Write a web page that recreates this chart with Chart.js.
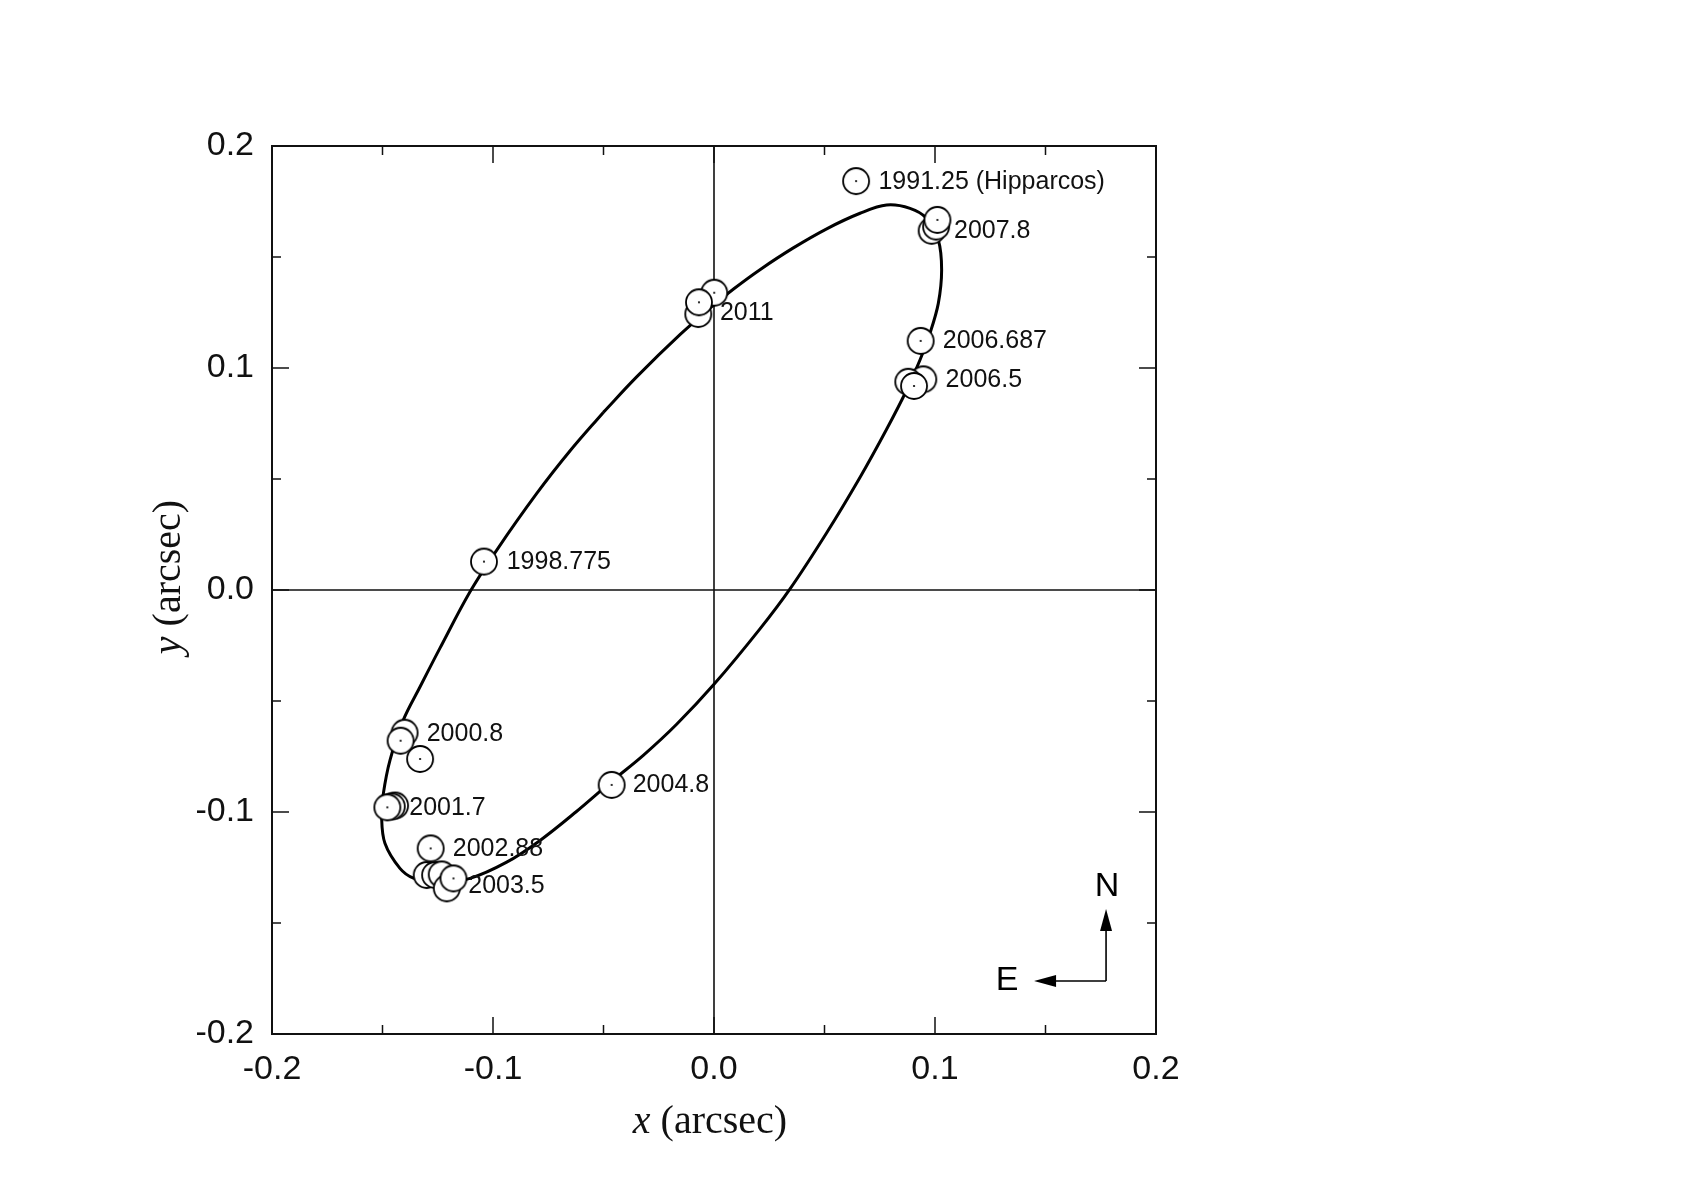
<!DOCTYPE html>
<html>
<head>
<meta charset="utf-8">
<script src="https://cdn.jsdelivr.net/npm/chart.js@4.4.0/dist/chart.umd.min.js"></script>
<style>
html, body { margin: 0; padding: 0; background: #fff; }
</style>
</head>
<body>
<canvas id="orbit-chart" width="1707" height="1190"></canvas>
<script>
// observed relative positions (arcsec), later points sit on top
var obsX = [0.0643, -0.1041, -0.1400, -0.1418, -0.1330, -0.1443, -0.1458, -0.1478, -0.1282,
    -0.1300, -0.1262, -0.1232, -0.1209, -0.1179, -0.0463, 0.0947, 0.0879, 0.0905, 0.0935,
    0.0985, 0.1005, 0.1011, -0.0071, 0.0001, -0.0068];
var obsY = [0.1842, 0.0128, -0.0643, -0.0679, -0.0761, -0.0971, -0.0975, -0.0979, -0.1164,
    -0.1284, -0.1284, -0.1281, -0.1344, -0.1299, -0.0878, 0.0949, 0.0938, 0.0919, 0.1122,
    0.1618, 0.1637, 0.1667, 0.1243, 0.1339, 0.1296];

// fitted orbit
var orbitX = [-0.0501, -0.0350, -0.0154, 0.0000, 0.0087, 0.0208, 0.0359, 0.0510,
    0.0661, 0.0781, 0.0887, 0.0962, 0.1015, 0.1030, 0.1015, 0.0977, 0.0932, 0.0872,
    0.0781, 0.0661, 0.0510, 0.0344, 0.0208, 0.0000, -0.0169, -0.0320, -0.0463, -0.0625,
    -0.0787, -0.0938, -0.1104, -0.1250, -0.1360, -0.1421, -0.1489, -0.1504, -0.1496, -0.1466,
    -0.1406, -0.1330, -0.1240, -0.1104, -0.0983, -0.0802, -0.0652, -0.0501];
var orbitY = [0.0800, 0.0960, 0.1150, 0.1285, 0.1355, 0.1443, 0.1541, 0.1627,
    0.1697, 0.1734, 0.1719, 0.1674, 0.1577, 0.1441, 0.1291, 0.1156, 0.1036, 0.0901,
    0.0724, 0.0508, 0.0258, 0.0005, -0.0175, -0.0425, -0.0605, -0.0745, -0.0862, -0.1000,
    -0.1128, -0.1226, -0.1299, -0.1320, -0.1298, -0.1254, -0.1141, -0.1021, -0.0916, -0.0766,
    -0.0586, -0.0436, -0.0262, -0.0008, 0.0180, 0.0435, 0.0626, 0.0800];

// epoch labels (left edge of text, in data units)
var labelText = ['1991.25 (Hipparcos)', '2007.8', '2006.687', '2006.5', '2011', '1998.775',
    '2000.8', '2001.7', '2002.88', '2003.5', '2004.8'];
var labelX = [0.0744, 0.1086, 0.1035, 0.1048, 0.0027, -0.0938, -0.1300, -0.1379, -0.1182, -0.1112, -0.0368];
var labelY = [0.1842, 0.1622, 0.1126, 0.0949, 0.1251, 0.0128, -0.0643, -0.0976, -0.1164, -0.1329, -0.0874];

var majorTicks = [-0.2, -0.1, 0, 0.1, 0.2];
var minorTicks = [-0.15, -0.05, 0.05, 0.15];

var sansFont = '"Liberation Sans", Arial, sans-serif';
var serifFont = '"Liberation Serif", "Times New Roman", serif';

// open circle with a dot in the middle
function makeMarker() {
    var c = document.createElement('canvas');
    c.width = 32; c.height = 32;
    var g = c.getContext('2d');
    g.beginPath();
    g.arc(16, 16, 13, 0, Math.PI * 2);
    g.fillStyle = '#fff';
    g.fill();
    g.lineWidth = 1.8;
    g.strokeStyle = '#000';
    g.stroke();
    g.beginPath();
    g.arc(16, 16, 1.1, 0, Math.PI * 2);
    g.fillStyle = '#000';
    g.fill();
    return c;
}

function fmt(v) {
    if (Math.abs(v) < 1e-9) return '0.0';
    return v.toFixed(1);
}

var decor = {
    id: 'decor',
    beforeDatasetsDraw: function (chart) {
        var ctx = chart.ctx, a = chart.chartArea;
        var sx = chart.scales.x, sy = chart.scales.y;
        ctx.save();
        ctx.strokeStyle = '#111';
        ctx.lineWidth = 1.6;
        var x0 = sx.getPixelForValue(0), y0 = sy.getPixelForValue(0);
        ctx.beginPath();
        ctx.moveTo(x0, a.top); ctx.lineTo(x0, a.bottom);
        ctx.moveTo(a.left, y0); ctx.lineTo(a.right, y0);
        ctx.stroke();
        ctx.restore();
    },
    afterDatasetsDraw: function (chart) {
        var ctx = chart.ctx, a = chart.chartArea;
        var sx = chart.scales.x, sy = chart.scales.y;
        ctx.save();

        // frame
        ctx.strokeStyle = '#111';
        ctx.lineWidth = 2;
        ctx.strokeRect(a.left, a.top, a.right - a.left, a.bottom - a.top);

        // inward ticks on all four sides
        ctx.lineWidth = 1.5;
        ctx.beginPath();
        function tickSet(vals, len) {
            vals.forEach(function (v) {
                var px = sx.getPixelForValue(v), py = sy.getPixelForValue(v);
                ctx.moveTo(px, a.bottom); ctx.lineTo(px, a.bottom - len);
                ctx.moveTo(px, a.top); ctx.lineTo(px, a.top + len);
                ctx.moveTo(a.left, py); ctx.lineTo(a.left + len, py);
                ctx.moveTo(a.right, py); ctx.lineTo(a.right - len, py);
            });
        }
        tickSet(majorTicks, 17);
        tickSet(minorTicks, 9);
        ctx.stroke();

        // epoch labels
        ctx.fillStyle = '#111';
        ctx.font = '25px ' + sansFont;
        ctx.textAlign = 'left';
        ctx.textBaseline = 'middle';
        labelText.forEach(function (t, i) {
            ctx.fillText(t, sx.getPixelForValue(labelX[i]), sy.getPixelForValue(labelY[i]) + 1);
        });

        // N / E compass
        var cx = sx.getPixelForValue(0.1774), cy = sy.getPixelForValue(-0.1761);
        ctx.strokeStyle = '#000';
        ctx.fillStyle = '#000';
        ctx.lineWidth = 1.6;
        ctx.beginPath();
        ctx.moveTo(cx, cy); ctx.lineTo(cx, cy - 55);
        ctx.moveTo(cx, cy); ctx.lineTo(cx - 55, cy);
        ctx.stroke();
        ctx.beginPath();
        ctx.moveTo(cx, cy - 72); ctx.lineTo(cx - 6, cy - 50); ctx.lineTo(cx + 6, cy - 50);
        ctx.closePath(); ctx.fill();
        ctx.beginPath();
        ctx.moveTo(cx - 72, cy); ctx.lineTo(cx - 50, cy - 6); ctx.lineTo(cx - 50, cy + 6);
        ctx.closePath(); ctx.fill();
        ctx.font = '34px ' + sansFont;
        ctx.textAlign = 'center';
        ctx.fillText('N', cx + 1, cy - 94);
        ctx.fillText('E', cx - 99, cy);

        // axis titles with italic variable
        ctx.fillStyle = '#111';
        function title(v, rest, x, y) {
            ctx.textAlign = 'left';
            ctx.font = 'italic 40px ' + serifFont;
            var w1 = ctx.measureText(v + ' ').width;
            ctx.font = '40px ' + serifFont;
            var w2 = ctx.measureText(rest).width;
            var start = x - (w1 + w2) / 2;
            ctx.font = 'italic 40px ' + serifFont;
            ctx.fillText(v + ' ', start, y);
            ctx.font = '40px ' + serifFont;
            ctx.fillText(rest, start + w1, y);
        }
        title('x', '(arcsec)', (a.left + a.right) / 2 - 4, a.bottom + 88);
        ctx.save();
        ctx.translate(a.left - 103, (a.top + a.bottom) / 2 - 13);
        ctx.rotate(-Math.PI / 2);
        title('y', '(arcsec)', 0, 0);
        ctx.restore();

        ctx.restore();
    }
};

var axisTicks = {
    stepSize: 0.1,
    color: '#111',
    font: { family: sansFont, size: 34 },
    callback: fmt
};

new Chart(document.getElementById('orbit-chart'), {
    type: 'scatter',
    data: {
        datasets: [{
            label: 'observations',
            data: obsX.map(function (x, i) { return { x: x, y: obsY[i] }; }),
            pointStyle: makeMarker(),
            pointRadius: 14,
            showLine: false,
            order: 0
        }, {
            label: 'orbit',
            data: orbitX.map(function (x, i) { return { x: x, y: orbitY[i] }; }),
            showLine: true,
            borderColor: '#000',
            borderWidth: 3,
            pointRadius: 0,
            tension: 0.35,
            fill: false,
            order: 1
        }]
    },
    options: {
        responsive: false,
        animation: false,
        devicePixelRatio: 1,
        events: [],
        layout: { padding: { left: 172, right: 551, top: 146, bottom: 56 } },
        plugins: { legend: { display: false }, tooltip: { enabled: false } },
        scales: {
            x: {
                type: 'linear', min: -0.2, max: 0.2,
                grid: { display: false, drawTicks: false },
                border: { display: false },
                ticks: Object.assign({ padding: 15 }, axisTicks),
                afterFit: function (s) { s.height = 100; }
            },
            y: {
                type: 'linear', min: -0.2, max: 0.2,
                grid: { display: false, drawTicks: false },
                border: { display: false },
                ticks: Object.assign({ padding: 18 }, axisTicks),
                afterFit: function (s) { s.width = 100; }
            }
        }
    },
    plugins: [decor]
});
</script>
</body>
</html>
